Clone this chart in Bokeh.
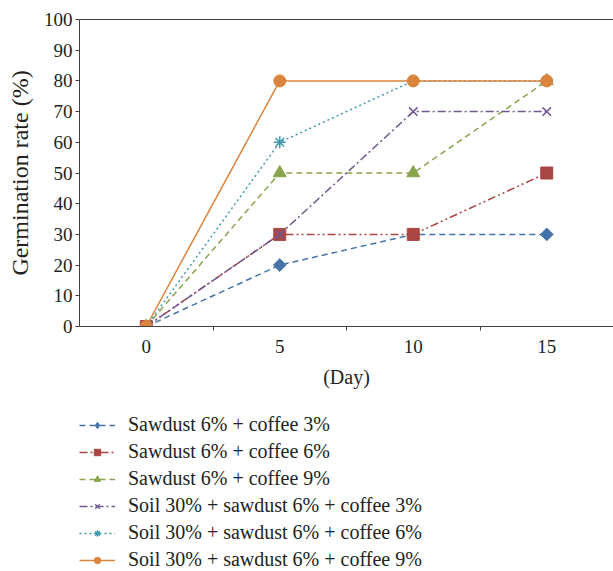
from bokeh.plotting import figure
from bokeh.models import (Range1d, FixedTicker, LinearAxis, Legend, LegendItem)
from bokeh.layouts import column
from bokeh.embed import file_html
from bokeh.resources import INLINE
import math

# ---- data ----
days = [0, 5, 10, 15]
sawdust_c3 = [0, 20, 30, 30]
sawdust_c6 = [0, 30, 30, 50]
sawdust_c9 = [0, 50, 50, 80]
soil_c3 = [0, 30, 70, 70]
soil_c6 = [0, 60, 80, 80]
soil_c9 = [0, 80, 80, 80]
labels = ["Sawdust 6% + coffee 3%", "Sawdust 6% + coffee 6%", "Sawdust 6% + coffee 9%",
          "Soil 30% + sawdust 6% + coffee 3%", "Soil 30% + sawdust 6% + coffee 6%",
          "Soil 30% + sawdust 6% + coffee 9%"]
y_ticks = list(range(0, 101, 10))
x_ticks = [0, 5, 10, 15]

series = [sawdust_c3, sawdust_c6, sawdust_c9, soil_c3, soil_c6, soil_c9]
colors = ["#4572A7", "#AA4643", "#89A54E", "#71588F", "#4198AF", "#DB843D"]
dashes = ["6 4", "8 3 2 3 2 3", "6 4", "8 3 2 3", "2 3", "solid"]
markers = ["square", "square", "triangle", "x", "asterisk", "circle"]
angles = [math.pi / 4, 0, 0, 0, 0, 0]
sizes = [9, 12, 13, 12, 12, 12]
leg_markers = ["diamond", "square", "triangle", "x", "asterisk", "circle"]
leg_sizes = [11, 8, 9, 8, 8, 9]

FONT = "Liberation Serif"
TXT = "#231f20"
AX = "#404040"

p = figure(frame_width=534, frame_height=307, output_backend="svg", toolbar_location=None,
           x_range=Range1d(-2.5, 17.5), y_range=Range1d(0, 100),
           min_border_left=79, min_border_right=0, min_border_top=19, min_border_bottom=0,
           x_axis_type=None, y_axis_type=None)
p.outline_line_color = None
p.xgrid.visible = False
p.ygrid.visible = False
p.background_fill_color = "white"
p.border_fill_color = "white"

# y axis
ya = LinearAxis(ticker=FixedTicker(ticks=y_ticks), axis_label="Germination rate (%)")
ya.major_tick_out = 4
ya.major_tick_in = 0
ya.minor_tick_out = 0
ya.minor_tick_in = 0
ya.major_label_standoff = 3
ya.axis_line_color = AX
ya.major_tick_line_color = AX
ya.major_label_text_font = FONT
ya.major_label_text_font_size = "19px"
ya.major_label_text_color = TXT
ya.axis_label_text_font = FONT
ya.axis_label_text_font_size = "24px"
ya.axis_label_text_font_style = "normal"
ya.axis_label_text_color = TXT
ya.axis_label_standoff = 8
p.add_layout(ya, "left")

# x axis
xa = LinearAxis(ticker=FixedTicker(ticks=x_ticks, minor_ticks=[2.5, 7.5, 12.5]),
                axis_label="(Day)")
xa.major_tick_out = 0
xa.major_tick_in = 0
xa.minor_tick_out = 4
xa.minor_tick_in = 0
xa.major_label_standoff = 9
xa.axis_line_color = AX
xa.minor_tick_line_color = AX
xa.major_label_text_font = FONT
xa.major_label_text_font_size = "19px"
xa.major_label_text_color = TXT
xa.axis_label_text_font = FONT
xa.axis_label_text_font_size = "20px"
xa.axis_label_text_font_style = "normal"
xa.axis_label_text_color = TXT
xa.axis_label_standoff = 10
p.add_layout(xa, "below")

# top border
ta = LinearAxis(ticker=FixedTicker(ticks=[]))
ta.major_tick_out = 0
ta.major_tick_in = 0
ta.minor_tick_out = 0
ta.minor_tick_in = 0
ta.major_label_text_font_size = "0px"
ta.major_label_standoff = 0
ta.axis_line_color = AX
p.add_layout(ta, "above")

# legend figure (below the chart)
lf = figure(width=613, height=191, output_backend="svg", toolbar_location=None,
            x_range=Range1d(-2.5, 17.5), y_range=Range1d(0, 100),
            min_border_left=70, min_border_right=0, min_border_top=23, min_border_bottom=0,
            x_axis_type=None, y_axis_type=None)
lf.outline_line_color = None
lf.xgrid.visible = False
lf.ygrid.visible = False
lf.background_fill_color = "white"
lf.border_fill_color = "white"

items = []
for ys, c, d, m, s, a, lm, ls, lab in zip(series, colors, dashes, markers, sizes, angles,
                                          leg_markers, leg_sizes, labels):
    # chart
    p.line(days, ys, line_color=c, line_width=1.5, line_dash=d)
    if m in ("x", "asterisk"):
        p.scatter(days, ys, marker=m, size=s, line_color=c, line_width=1.5)
    else:
        p.scatter(days, ys, marker=m, size=s, angle=a, fill_color=c, line_color=c, line_width=1)
    # legend proxies (hidden)
    ln2 = lf.line(days, ys, line_color=c, line_width=1.5, line_dash=d, visible=False)
    if lm in ("x", "asterisk"):
        sc2 = lf.scatter(days, ys, marker=lm, size=ls, line_color=c, line_width=1.3,
                         visible=False)
    else:
        sc2 = lf.scatter(days, ys, marker=lm, size=ls, fill_color=c, line_color=c,
                         line_width=1, visible=False)
    items.append(LegendItem(label=lab, renderers=[ln2, sc2]))

legend = Legend(items=items, location="top_left", orientation="vertical")
legend.border_line_color = None
legend.background_fill_alpha = 0
legend.inactive_fill_alpha = 0
legend.padding = 8
legend.margin = 0
legend.spacing = 4
legend.glyph_width = 36
legend.glyph_height = 16
legend.label_height = 20
legend.label_standoff = 13
legend.label_text_font = FONT
legend.label_text_font_size = "20px"
legend.label_text_color = TXT
lf.add_layout(legend, "center")

open("out.html", "w").write(file_html(column(p, lf, spacing=0), INLINE))
